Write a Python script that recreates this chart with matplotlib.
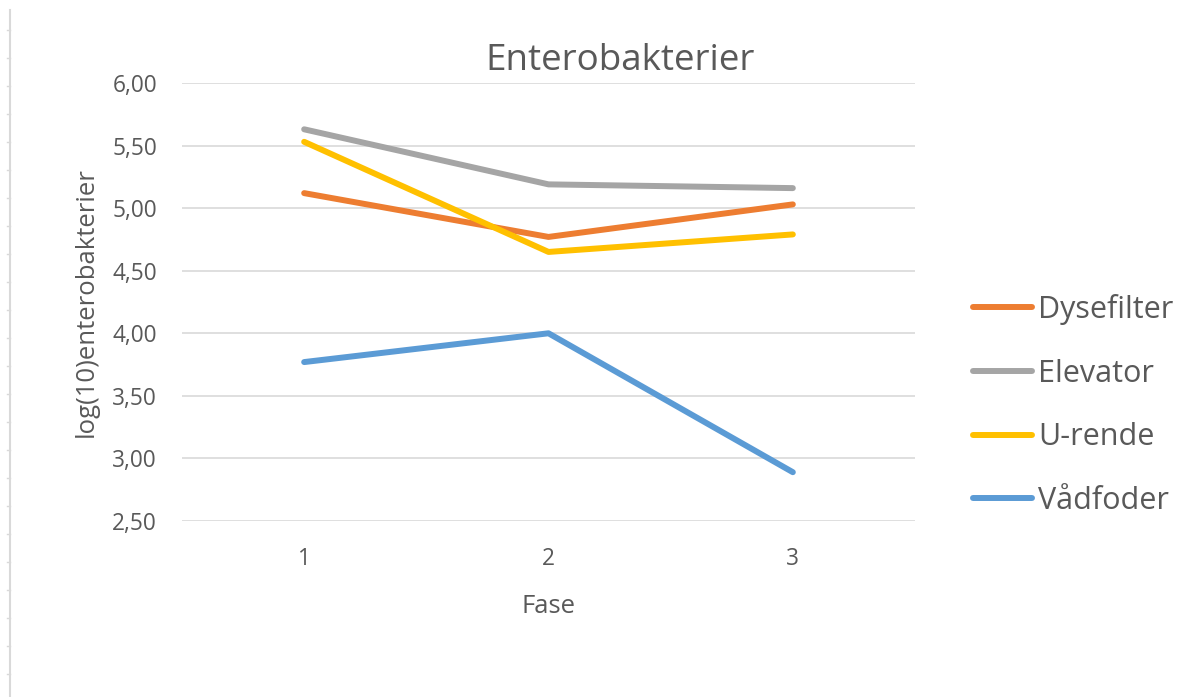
import matplotlib
matplotlib.use("Agg")
import matplotlib.pyplot as plt
from matplotlib.lines import Line2D
from matplotlib.ticker import FuncFormatter

# Data
fase = [1, 2, 3]
series_names = ["Dysefilter", "Elevator", "U-rende", "Vådfoder"]
dysefilter = [5.12, 4.77, 5.03]
elevator = [5.63, 5.19, 5.16]
u_rende = [5.53, 4.65, 4.79]
vadfoder = [3.77, 4.00, 2.89]
colors = ["#ed7d31", "#a5a5a5", "#ffc000", "#5b9bd5"]
y_ticks = [2.5, 3.0, 3.5, 4.0, 4.5, 5.0, 5.5, 6.0]

plt.rcParams['font.family'] = ['Open Sans', 'DejaVu Sans']
txt = "#595959"

fig = plt.figure(figsize=(11.86, 6.97), dpi=100)
ax = fig.add_axes([182/1186, 1 - 521/697, (915-182)/1186, (521-83)/697])

all_series = [dysefilter, elevator, u_rende, vadfoder]
for name, vals, c in zip(series_names, all_series, colors):
    ax.plot(fase, vals, color=c, lw=4.3, label=name, solid_capstyle="round",
            solid_joinstyle="round", zorder=3)

ax.set_xlim(0.5, 3.5)
ax.set_ylim(2.5, 6.0)
ax.set_xticks(fase)
ax.set_yticks(y_ticks)
ax.yaxis.set_major_formatter(FuncFormatter(lambda v, p: f"{v:.2f}".replace(".", ",")))
ax.grid(axis="y", color="#d9d9d9", lw=1.2, zorder=0)
ax.set_axisbelow(True)
for s in ax.spines.values():
    s.set_visible(False)
ax.tick_params(axis="both", length=0, labelsize=16.3, labelcolor=txt)
ax.tick_params(axis="y", pad=18)
ax.tick_params(axis="x", pad=19)

# title sits over the whole chart area (incl. legend), so it is right of the plot centre
ax.set_title("Enterobakterier", fontsize=26.5, color=txt, pad=9, x=0.5975)
ax.set_xlabel("Fase", fontsize=18.5, color=txt, labelpad=16)
ax.set_ylabel("log(10)enterobakterier", fontsize=18.5, color=txt, labelpad=10)

leg = ax.legend(loc="center left", bbox_to_anchor=(1.041, 0.265), frameon=False,
                fontsize=22, handlelength=1.95, handletextpad=0.2, labelspacing=1.1,
                labelcolor=txt)
for h in leg.get_lines():
    h.set_linewidth(4.3)

# thin ruler line at the left edge of the screenshot
fig.add_artist(Line2D([10/1186, 10/1186], [0, 1 - 10/697], color="#d9d9d9", lw=1.5))
for yy in range(30, 697, 28):
    fig.add_artist(Line2D([7/1186, 10/1186], [1 - yy/697, 1 - yy/697], color="#d9d9d9", lw=1))

fig.savefig("out.png", dpi=100, facecolor="white")
